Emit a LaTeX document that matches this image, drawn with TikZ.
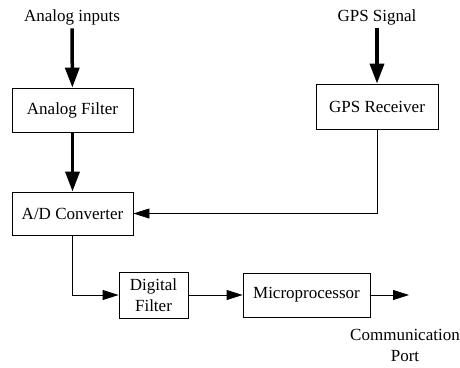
\documentclass[tikz,border=0pt]{standalone}
\usepackage{fontspec}
\setmainfont{Liberation Serif}
\usetikzlibrary{arrows.meta}

\begin{document}
\begin{tikzpicture}[x=1pt,y=-1pt,
        font=\rmfamily\fontsize{17}{21}\selectfont,
        block/.style = {draw,
            line width=0.8pt,
            inner sep=0pt,
            align=center},
        thinarrow/.style = {line width=0.8pt,
            -{Triangle[length=16pt,width=10pt]}},
        thickarrow/.style = {line width=3.5pt,
            -{Triangle[length=20pt,width=14pt]}}]

        \useasboundingbox (0,0) rectangle (460,367);

        % Inputs
        \node (ain) at (72,17) {Analog inputs};
        \node (gpssig) at (377,17) {GPS Signal};

        % Blocks
        \node[block, minimum width=121pt, minimum height=44pt] (afilter) at (72.5,110) {Analog Filter};
        \node[block, minimum width=121pt, minimum height=43pt] (adc) at (72.5,213.5) {A/D Converter};
        \node[block, minimum width=122pt, minimum height=45pt] (gps) at (377,106.5) {GPS Receiver};
        \node[block, minimum width=69pt, minimum height=46pt] (dfilter) at (153.5,295) {Digital\\Filter};
        \node[block, minimum width=127pt, minimum height=44pt] (micro) at (306.5,295) {Microprocessor};

        % Output
        \coordinate (out) at (409,295);
        \node[align=center] (port) at (405,345) {Communication\\Port};

        % Connectors
        \draw[thickarrow] (ain) -- (afilter);
        \draw[thickarrow] (afilter) -- (adc);
        \draw[thickarrow] (gpssig) -- (gps);
        \draw[thinarrow] (gps.south) |- (adc.east);
        \draw[thinarrow] (adc.south) |- (dfilter.west);
        \draw[thinarrow] (dfilter) -- (micro);
        \draw[thinarrow] (micro) -- (out);
    \end{tikzpicture}
\end{document}
